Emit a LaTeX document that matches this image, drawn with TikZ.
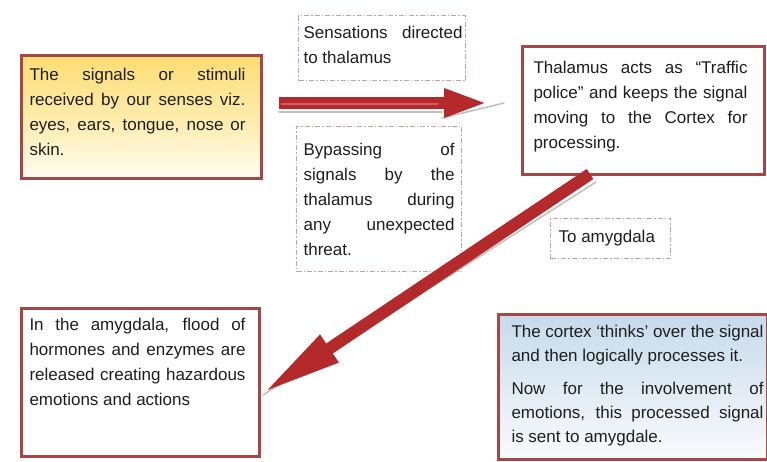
\documentclass[tikz,border=0pt]{standalone}
\usepackage{fontspec}
\setmainfont{Liberation Sans}
\usetikzlibrary{arrows.meta}
\definecolor{bord}{RGB}{163,72,70}
\definecolor{arrred}{RGB}{180,42,42}
\definecolor{dashc}{RGB}{205,160,158}
\definecolor{ytop}{RGB}{253,220,115}
\definecolor{ymid}{RGB}{254,236,170}
\definecolor{ybot}{RGB}{255,252,240}
\definecolor{btop}{RGB}{198,218,236}
\definecolor{bbot}{RGB}{250,251,253}
\definecolor{txt}{RGB}{30,30,30}
\newcommand{\bxfont}{\fontsize{17}{25}\selectfont\color{txt}\hyphenpenalty=10000\exhyphenpenalty=10000\parindent=0pt}
% #1 H, #2 W, #3 dy, #4 left pad, #5 text width, #6 text
\newcommand{\bxt}[6]{\begin{minipage}[c][#1][t]{#2}\vspace*{#3}\hspace*{#4}\begin{minipage}[t]{#5}\bxfont #6\end{minipage}\end{minipage}}
\begin{document}
\begin{tikzpicture}[x=1pt,y=-1pt,
  redbox/.style={draw=bord, line width=3pt, inner sep=0pt, anchor=north west},
  dashbox/.style={draw=dashc, line width=1.2pt, dash pattern=on 5pt off 2pt on 1.5pt off 2pt, inner sep=0pt, anchor=north west, fill=white},
  bigarrow/.style={draw=arrred, line width=12pt, -{Triangle[length=44pt,width=26pt]}},
  diagarrow/.style={draw=arrred, line width=12pt, -{Triangle[length=80pt,width=30pt]}},
  shadowline/.style={draw=gray!50, line width=1.5pt, line cap=round}]
\useasboundingbox[fill=white] (0,0) rectangle (767,461);

% boxes
\node[redbox, top color=ytop, bottom color=ybot, middle color=ymid] (yel) at (20,54)
  {\bxt{123pt}{240pt}{12.6pt}{8pt}{216pt}{The signals or stimuli\linebreak received by our senses viz.\linebreak eyes, ears, tongue, nose or\linebreak skin.}};

\node[dashbox] (sens) at (298,15)
  {\bxt{65pt}{167pt}{10.6pt}{5pt}{159pt}{Sensations directed\linebreak to thalamus}};

\node[dashbox] (byp) at (296,126)
  {\bxt{145pt}{165pt}{16.6pt}{7pt}{151pt}{Bypassing of\linebreak signals by the\linebreak thalamus during\linebreak any unexpected\linebreak threat.}};

\node[redbox, fill=white] (thal) at (521,45)
  {\bxt{128pt}{242pt}{14.6pt}{11pt}{214pt}{Thalamus acts as “Traffic\linebreak police” and keeps the signal\linebreak moving to the Cortex for\linebreak processing.}};

\node[dashbox] (tolbl) at (550,218)
  {\bxt{40pt}{120pt}{11.6pt}{8pt}{110pt}{\raggedright To amygdala}};

\node[redbox, fill=white] (amyg) at (20,307)
  {\bxt{148pt}{238pt}{9.6pt}{8pt}{216pt}{In the amygdala, flood of\linebreak hormones and enzymes are\linebreak released creating hazardous\linebreak emotions and actions}};

\node[redbox, top color=btop, bottom color=bbot] (cort) at (497,313)
  {\bxt{145pt}{269pt}{10.6pt}{13pt}{252pt}{\baselineskip=24pt The cortex ‘thinks’ over the signal\linebreak and then logically processes it.\par\vspace{9pt}Now for the involvement of\linebreak emotions, this processed signal\linebreak is sent to amygdale.}};

% arrows
\coordinate (h1) at (279,103);
\coordinate (h2) at (488,103);
\coordinate (d1) at (590,174);
\coordinate (d2) at (263,393);

\draw[shadowline] ([yshift=-9pt]h1) -- ([xshift=-46pt,yshift=-9pt]h2);
\draw[shadowline] ([xshift=-46pt,yshift=-15pt]h2) -- ([xshift=16pt]h2);
\draw[bigarrow] (h1) -- (h2);
\draw[draw=red!45!white, line width=2pt, opacity=.5] ([xshift=2pt,yshift=-1pt]h1) -- ([xshift=-50pt,yshift=-1pt]h2);

\draw[shadowline] ([xshift=6pt,yshift=-8pt]d1) -- ([xshift=0pt,yshift=-2pt]d2);
\draw[diagarrow] (d1) -- (d2);
\end{tikzpicture}
\end{document}
